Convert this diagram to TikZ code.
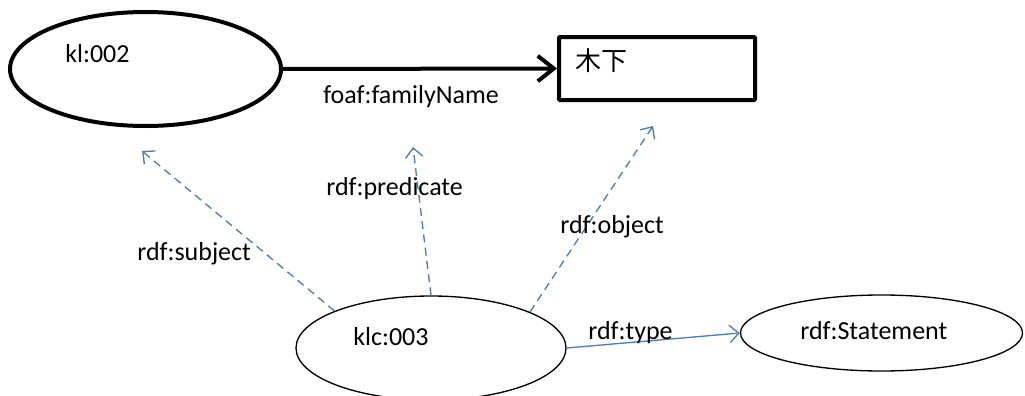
\documentclass[tikz,border=0pt]{standalone}
\usepackage{fontspec}
\setmainfont{Carlito}
\newfontfamily\cjkfont{Noto Sans CJK JP}
\usetikzlibrary{arrows.meta,shapes.geometric}
\definecolor{linkblue}{RGB}{74,126,187}
\begin{document}
\begin{tikzpicture}[x=0.75pt,y=-0.75pt,
  every node/.style={font=\fontsize{19.5}{23}\selectfont},
  ell/.style={draw, ellipse, inner sep=0pt, line width=1pt},
  thickell/.style={draw, ellipse, inner sep=0pt, line width=3pt},
  thickbox/.style={draw, rectangle, inner sep=0pt, line width=3pt, rounded corners=0.8pt},
  lbl/.style={anchor=base west, inner sep=0pt},
  thickarrow/.style={line width=3pt, -{Straight Barb[length=12pt,width=19pt]}},
  bluedash/.style={draw=linkblue, line width=1pt, dash pattern=on 6pt off 4pt, -{Straight Barb[length=7pt,width=13pt]}},
  bluesolid/.style={draw=linkblue, line width=1pt, -{Straight Barb[length=7pt,width=13pt]}}
]
\useasboundingbox (0,0) rectangle (1025,396);

% nodes
\node[thickell, minimum width=203.25pt, minimum height=85.5pt] (kl) at (145.5,69) {};
\node[thickbox, minimum width=147pt, minimum height=47.25pt] (name) at (657,68.5) {};
\node[ell, minimum width=202.5pt, minimum height=78pt] (klc) at (431,348) {};
\node[ell, minimum width=211.5pt, minimum height=57pt] (stmt) at (881.5,333) {};

% node texts
\node[lbl] (kltext) at (65,62) {kl:002};
\node[lbl] (nametext) at (575,70) {\cjkfont 木下};
\node[lbl] (klctext) at (353,345) {klc:003};
\node[lbl] (stmttext) at (800,339) {rdf:Statement};

% free ends
\coordinate (subjtip) at (142,151);
\coordinate (predtip) at (413,147);
\coordinate (objtip) at (653,126);

% connectors
\draw[thickarrow] (kl.east) -- (name.west);
\draw[bluedash] (klc.159.8) -- (subjtip);
\draw[bluedash] (klc.north) -- (predtip);
\draw[bluedash] (klc.20.8) -- (objtip);
\draw[bluesolid] (klc.east) -- (stmt.west);

% connector labels
\node[lbl] (famlbl) at (323,103) {foaf:familyName};
\node[lbl] (subjlbl) at (137,260) {rdf:subject};
\node[lbl] (predlbl) at (326,195) {rdf:predicate};
\node[lbl] (objlbl) at (560,233) {rdf:object};
\node[lbl] (typelbl) at (588,339) {rdf:type};
\end{tikzpicture}
\end{document}
